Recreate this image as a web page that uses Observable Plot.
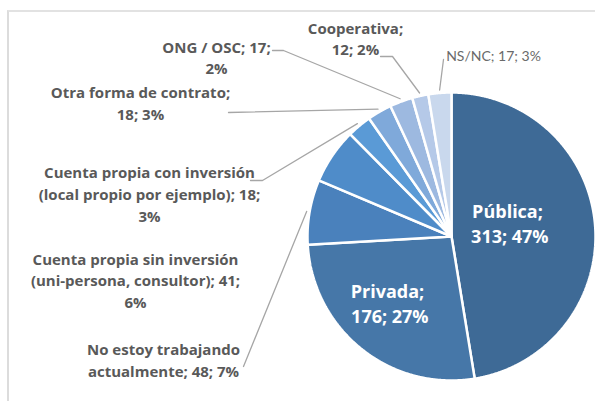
<!DOCTYPE html>
<html><head><meta charset="utf-8">
<script src="https://cdn.jsdelivr.net/npm/d3@7"></script>
<script src="https://cdn.jsdelivr.net/npm/@observablehq/plot@0.6"></script>
<style>
html,body{margin:0;padding:0;background:#fff;}
#wrap{position:relative;width:595px;height:401px;overflow:hidden;background:#fff;}
#frame{position:absolute;left:7px;top:10px;width:600px;height:400px;border-left:2px solid #dcdcdc;border-top:2px solid #e2e2e2;box-sizing:border-box;pointer-events:none;}
#plot{position:absolute;left:0;top:0;}
</style></head><body>
<div id="wrap"><div id="plot"></div><div id="frame"></div></div>
<script>
// ---- data ----
const categories = ["Pública","Privada","No estoy trabajando actualmente","Cuenta propia sin inversión (uni-persona, consultor)","Cuenta propia con inversión (local propio por ejemplo)","Otra forma de contrato","ONG / OSC","Cooperativa","NS/NC"];
const values = [313,176,48,41,18,18,17,12,17];
const percents = [47,27,7,6,3,3,2,2,3];

// ---- style ----
const palette = ["#3e6a96","#4677a8","#4a81bc","#4f8cc9","#5a9ad6","#7fa9da","#9db9e0","#b5c9e8","#c9d8ed"];

// ---- layout (pixel positions of labels, line breaks, leader elbows) ----
const W = 595, H = 401, cx = 451, cy = 236, R = 144, anchorR = 147;
const layout = [
  {x:507, y:222, breakAfter:["Pública;"], kind:"inside"},
  {x:387, y:302, breakAfter:["Privada;"], kind:"inside"},
  {x:163, y:358.5, breakAfter:["trabajando "], kind:"out", elbow:[[243,366]]},
  {x:135, y:279, breakAfter:["inversión ","41; "], kind:"out"},
  {x:149, y:192.5, breakAfter:["inversión ","18; "], kind:"out", elbow:[[250,180],[262,180]]},
  {x:140, y:101.5, breakAfter:["contrato; "], kind:"out", elbow:[[228,112]]},
  {x:216, y:56, breakAfter:["17; "], kind:"out", elbow:[[272,50],[283,50]]},
  {x:355, y:37, breakAfter:["Cooperativa; "], kind:"out", elbow:[[380,56],[392,56]]},
  {x:493, y:56, breakAfter:[], kind:"plain", elbow:[[443,59]]}
];

function wrap(s, breaks){
  for (const b of breaks){ const k = s.indexOf(b); if (k >= 0) s = s.slice(0, k + b.length).trimEnd() + "\n" + s.slice(k + b.length); }
  return s;
}

const rows = categories.map((c,i)=>({i, category:c, value:values[i], pct:percents[i]}));
const arcs = d3.pie().sort(null).value(d=>d.value)(rows);

// slice polygons
const slicePts = [];
arcs.forEach((a,i)=>{
  const n = Math.max(4, Math.ceil((a.endAngle - a.startAngle)/0.005));
  slicePts.push({i, x:cx, y:cy});
  for (let k=0;k<=n;k++){
    const t = a.startAngle + (a.endAngle - a.startAngle)*k/n;
    slicePts.push({i, x:cx + R*Math.sin(t), y:cy - R*Math.cos(t)});
  }
  slicePts.push({i, x:cx, y:cy});
});

const labels = rows.map((r,i)=>({
  ...layout[i],
  text: wrap(`${r.category}; ${r.value}; ${r.pct}%`, layout[i].breakAfter)
}));

// leaders
const leaderPts = [];
arcs.forEach((a,i)=>{
  const L = layout[i];
  if (!L.elbow) return;
  const mid = (a.startAngle + a.endAngle)/2;
  L.elbow.forEach(p=>leaderPts.push({i, x:p[0], y:p[1]}));
  leaderPts.push({i, x:cx + anchorR*Math.sin(mid), y:cy - anchorR*Math.cos(mid)});
});

const font = "'Open Sans', Lato, sans-serif";
const chart = Plot.plot({
  width: W, height: H, margin: 0,
  x: {domain:[0,W], range:[0,W], axis:null},
  y: {domain:[0,H], range:[0,H], axis:null},
  style: {fontFamily: font, background:"transparent"},
  marks: [
    Plot.line(slicePts, {x:"x", y:"y", z:"i", fill:d=>palette[d.i], stroke:"#ffffff", strokeWidth:2.5, strokeLinejoin:"miter", curve:"linear"}),
    Plot.line(leaderPts, {x:"x", y:"y", z:"i", stroke:"#a6a6a6", strokeWidth:1.3, curve:"linear"}),
    Plot.text(labels.filter(d=>d.kind==="inside"), {x:"x", y:"y", text:"text", fill:"#ffffff", fontSize:18, fontWeight:"bold", lineHeight:1.4, textAnchor:"middle", lineAnchor:"middle"}),
    Plot.text(labels.filter(d=>d.kind==="out"), {x:"x", y:"y", text:"text", fill:"#595959", fontSize:15, fontWeight:"bold", lineHeight:1.45, textAnchor:"middle", lineAnchor:"middle"}),
    Plot.text(labels.filter(d=>d.kind==="plain"), {x:"x", y:"y", text:"text", fill:"#6a6a6a", fontSize:14, fontWeight:"normal", fontFamily:"Lato, sans-serif", textAnchor:"middle", lineAnchor:"middle"})
  ]
});
document.getElementById("plot").appendChild(chart);
</script>
</body></html>
